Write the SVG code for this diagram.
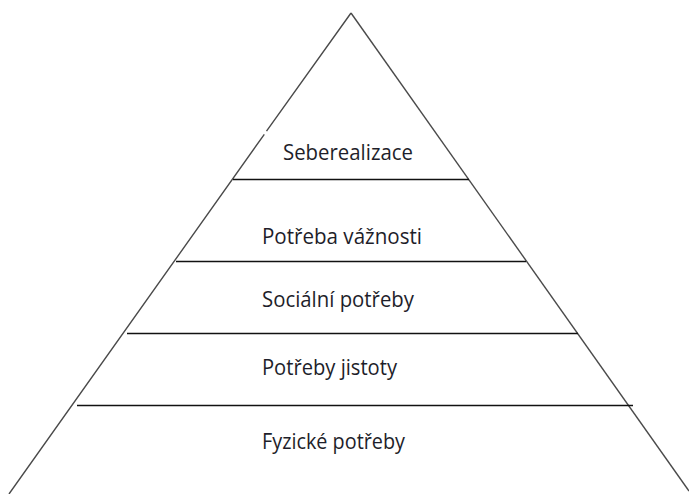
<svg xmlns="http://www.w3.org/2000/svg" width="689" height="494" viewBox="0 0 689 494">
<style>
.side{fill:none;stroke:#4a4a4a;stroke-width:1.4}
.tier{stroke:#111;stroke-width:1.6}
.lbl{font-family:"Open Sans","Noto Sans",sans-serif;font-size:21px;fill:#1e1e2a}
</style>
<rect width="689" height="494" fill="#fff"/>
<g id="connectors">
<path class="side" d="M351,13 L266.5,131.2 M264.3,134.3 L9,494"/>
<path class="side" d="M351,13 L689,491"/>
<line class="tier" x1="233" y1="179.5" x2="469" y2="179.5"/>
<line class="tier" x1="176" y1="261.5" x2="526" y2="261.5"/>
<line class="tier" x1="127" y1="333.5" x2="578" y2="333.5"/>
<line class="tier" x1="77" y1="405.5" x2="633" y2="405.5"/>
</g>
<g id="seberealizace"><text class="lbl" x="283" y="160" textLength="130" lengthAdjust="spacingAndGlyphs">Seberealizace</text></g>
<g id="potreba-vaznosti"><text class="lbl" x="262" y="244" textLength="160" lengthAdjust="spacingAndGlyphs">Potřeba vážnosti</text></g>
<g id="socialni-potreby"><text class="lbl" x="262" y="307" textLength="152" lengthAdjust="spacingAndGlyphs">Sociální potřeby</text></g>
<g id="potreby-jistoty"><text class="lbl" x="262" y="375" textLength="135" lengthAdjust="spacingAndGlyphs">Potřeby jistoty</text></g>
<g id="fyzicke-potreby"><text class="lbl" x="262" y="449" textLength="143" lengthAdjust="spacingAndGlyphs">Fyzické potřeby</text></g>
</svg>
